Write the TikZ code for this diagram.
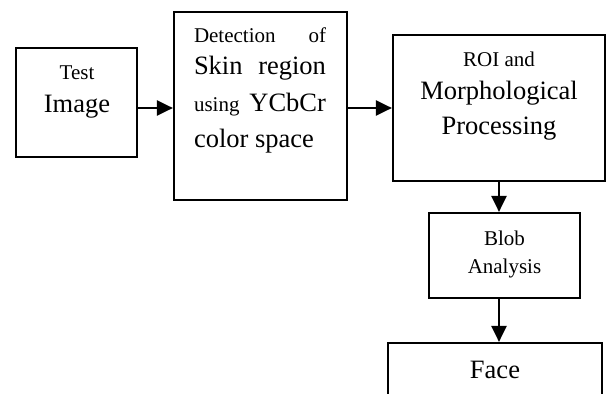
\documentclass[tikz,border=0pt]{standalone}
\usepackage{fontspec}
\setmainfont{Liberation Serif}
\usetikzlibrary{arrows.meta}
\newcommand{\smalltxt}{\fontsize{21}{24}\selectfont}
\newcommand{\bigtxt}{\fontsize{26.5}{30}\selectfont}
\begin{document}
\begin{tikzpicture}[x=1pt,y=-1pt,
  box/.style={draw,line width=2.2pt,rectangle,inner sep=0pt},
  arr/.style={line width=2.2pt,-{Triangle[length=16pt,width=15pt]}},
  txt/.style={anchor=base,inner sep=0pt}]
\useasboundingbox (0,0) rectangle (606,394);
\clip (0,0) rectangle (606,394);

% blocks
\node[box,minimum width=121pt,minimum height=109pt] (test) at (76.5,102.5) {};
\node[box,minimum width=173pt,minimum height=188pt] (det) at (260.5,106) {};
\node[box,minimum width=212pt,minimum height=146pt] (roi) at (499,108) {};
\node[box,minimum width=151pt,minimum height=85pt] (blob) at (504.5,255.5) {};
\node[box,minimum width=214pt,minimum height=80pt] (face) at (495,383) {};

% labels
\node[txt] (t1) at (77,79) {\smalltxt Test};
\node[txt] (t2) at (77,112) {\bigtxt Image};

\node[txt] (d1) at (260,42) {\smalltxt\makebox[132pt][s]{Detection\hfill of}};
\node[txt] (d2) at (260,74) {\makebox[132pt][s]{\bigtxt Skin\hfill region}};
\node[txt] (d3) at (260,111) {\makebox[132pt][s]{\smalltxt using\hfill\bigtxt YCbCr}};
\node[txt] (d4) at (260,147) {\makebox[132pt][l]{\bigtxt color space}};

\node[txt] (r1) at (499,66) {\smalltxt ROI and};
\node[txt] (r2) at (499,99) {\bigtxt Morphological};
\node[txt] (r3) at (499,134) {\bigtxt Processing};

\node[txt] (b1) at (504.5,245) {\smalltxt Blob};
\node[txt] (b2) at (504.5,273) {\smalltxt Analysis};

\node[txt] (f1) at (495,378) {\bigtxt Face};

% connectors
\draw[arr] (test.east |- roi.west) -- (det.west |- roi.west);
\draw[arr] (det.east |- roi.west) -- (roi.west);
\draw[arr] (roi.south) -- (blob.north -| roi.south);
\draw[arr] (blob.south -| roi.south) -- (face.north -| roi.south);
\end{tikzpicture}
\end{document}
